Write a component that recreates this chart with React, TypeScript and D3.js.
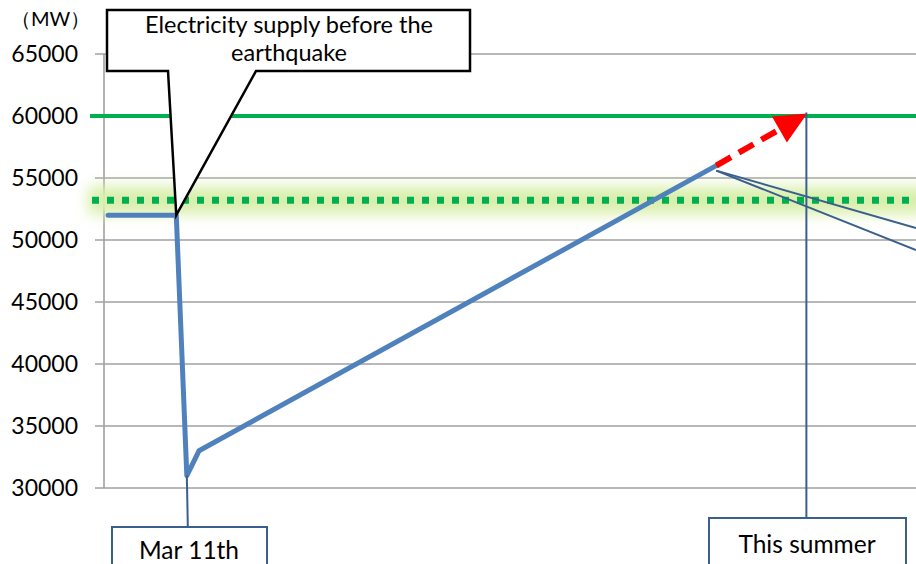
import * as d3 from "d3";

// y ticks in MW
const yTicks = [30000, 35000, 40000, 45000, 50000, 55000, 60000, 65000];

// supply curve (x = time index, y = MW)
const supplyX = [0.5, 8.9, 10.2, 11.7, 75.4];
const supplyY = [52000, 52000, 31000, 33000, 56000];

// forecast arrow to this summer
const forecastX = [75.4, 86.6];
const forecastY = [56000, 60200];

const demandPeak = 60000; // solid green
const supplyBefore = 53200; // dotted green with glow

const marchX = 10.2;
const summerX = 86.5;

const W = 916;
const H = 564;

export default function App() {
  const x = d3.scaleLinear().domain([0, 100]).range([104, 916]);
  const y = d3.scaleLinear().domain([30000, 65000]).range([488, 54]);

  const pts = supplyX.map((v, i) => [x(v), y(supplyY[i])] as [number, number]);
  const line = d3.line();

  const [ax0, ay0] = [x(forecastX[0]), y(forecastY[0])];
  const [ax1, ay1] = [x(forecastX[1]), y(forecastY[1])];
  const ang = Math.atan2(ay1 - ay0, ax1 - ax0);
  const headLen = 32;
  const headHalf = 15;
  const bx = ax1 - headLen * Math.cos(ang);
  const by = ay1 - headLen * Math.sin(ang);
  const head = [
    [ax1, ay1],
    [bx + headHalf * Math.sin(ang), by - headHalf * Math.cos(ang)],
    [bx - headHalf * Math.sin(ang), by + headHalf * Math.cos(ang)],
  ];

  const endPt = pts[pts.length - 1];
  const font = "Lato, 'Open Sans', sans-serif";
  const navy = "#3b5f8c";
  const yb = y(supplyBefore);

  return (
    <svg width={W} height={H} style={{ position: "absolute", left: 0, top: 0, background: "#fff" }}>
      <defs>
        <filter id="glow" filterUnits="userSpaceOnUse" x={0} y={yb - 60} width={W + 40} height={120}>
          <feGaussianBlur stdDeviation="7" />
        </filter>
      </defs>

      {/* gridlines */}
      {yTicks.map((t) => (
        <g key={t}>
          <line x1={95} x2={W} y1={y(t)} y2={y(t)} stroke="#a0a0a0" strokeWidth={1.6} />
          <text x={78} y={y(t)} dy="0.36em" textAnchor="end" fontFamily={font} fontSize={23} fill="#000">
            {t}
          </text>
        </g>
      ))}
      <line x1={104} x2={104} y1={y(65000)} y2={y(30000)} stroke="#a0a0a0" strokeWidth={1.6} />
      <text x={11} y={26} fontFamily={font} fontSize={20} fill="#000">（MW）</text>

      {/* supply before quake: glow + dotted */}
      <rect x={88} y={yb - 14} width={W + 20} height={28} fill="#d9efac" filter="url(#glow)" />
      <line x1={92} x2={W} y1={yb} y2={yb} stroke="#00b050" strokeWidth={7} strokeDasharray="7 8" />

      {/* demand */}
      <line x1={90} x2={W} y1={y(demandPeak)} y2={y(demandPeak)} stroke="#00b050" strokeWidth={4} />

      {/* supply curve */}
      <path d={line(pts) ?? ""} fill="none" stroke="#4f81bd" strokeWidth={5} strokeLinejoin="round" strokeLinecap="round" />

      {/* leader lines toward right */}
      <line x1={endPt[0]} y1={endPt[1] + 5} x2={W} y2={228} stroke={navy} strokeWidth={2} />
      <line x1={endPt[0]} y1={endPt[1] + 5} x2={W} y2={250} stroke={navy} strokeWidth={2} />

      {/* forecast arrow */}
      <line x1={ax0} y1={ay0} x2={bx + 8 * Math.cos(ang)} y2={by + 8 * Math.sin(ang)} stroke="#ff0000" strokeWidth={6} strokeDasharray="17 9" />
      <polygon points={head.map((p) => p.join(",")).join(" ")} fill="#ff0000" />

      {/* This summer callout */}
      <line x1={x(summerX)} x2={x(summerX)} y1={y(forecastY[1]) - 1} y2={518} stroke={navy} strokeWidth={2} />
      <rect x={709} y={518} width={197} height={60} fill="#fff" stroke={navy} strokeWidth={2} />
      <text x={807} y={553} textAnchor="middle" fontFamily={font} fontSize={24.5} fill="#000">This summer</text>

      {/* Mar 11th callout */}
      <line x1={x(marchX)} x2={x(marchX) + 1} y1={y(31000)} y2={527} stroke={navy} strokeWidth={2} />
      <rect x={112} y={527} width={155} height={60} fill="#fff" stroke={navy} strokeWidth={2} />
      <text x={189} y={559} textAnchor="middle" fontFamily={font} fontSize={24.5} fill="#000">Mar 11th</text>

      {/* before-quake callout */}
      <polygon
        points={[
          [107, 10], [470, 10], [470, 71], [256, 71],
          [x(supplyX[1]), y(supplyY[1])], [168, 71], [107, 71],
        ].map((p) => p.join(",")).join(" ")}
        fill="#fff"
        stroke="#000"
        strokeWidth={2.5}
        strokeLinejoin="miter"
      />
      <text x={289} y={33} textAnchor="middle" fontFamily={font} fontSize={23.5} fill="#000">Electricity supply before the</text>
      <text x={289} y={61} textAnchor="middle" fontFamily={font} fontSize={23.5} fill="#000">earthquake</text>
    </svg>
  );
}
